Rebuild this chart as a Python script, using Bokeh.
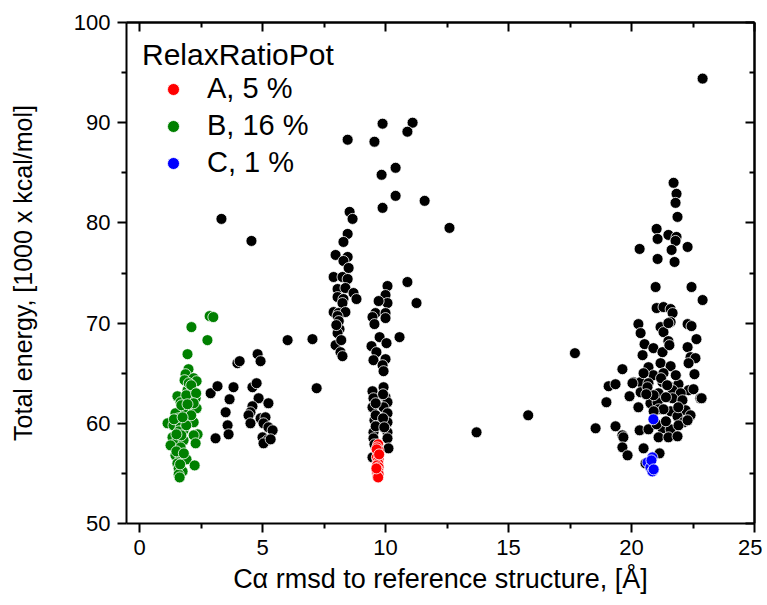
from bokeh.plotting import figure
from bokeh.models import Range1d, LinearAxis, FixedTicker, Legend, LegendItem
from bokeh.embed import file_html
from bokeh.resources import INLINE

FONT = "Liberation Sans"

# ---------------- data ----------------
# Cluster near 3-7 A plus stray points
black_x1 = [2.89, 3.17, 3.82, 3.98, 4.07, 3.66, 3.5, 3.58, 3.62, 3.09,
            4.8, 4.92, 4.59, 4.76, 4.84, 5.24, 4.59, 4.51, 4.43, 4.51, 4.92, 5.12,
            5.04, 5.24, 5.41, 5.0, 5.2, 5.04, 5.33,
            3.33, 4.55, 6.02, 7.03, 7.2, 13.7, 15.8, 17.7]
black_y1 = [63.0, 63.7, 63.6, 66.0, 66.2, 62.4, 61.1, 59.8, 58.9, 58.5,
            66.9, 66.2, 63.6, 64.0, 62.5, 62.0, 61.7, 61.1, 60.8, 60.0, 60.5, 60.6,
            60.0, 59.6, 59.3, 58.6, 58.3, 58.0, 58.4,
            80.4, 78.2, 68.3, 68.4, 63.5, 59.1, 60.8, 67.0]

# Cluster near 8-12 A (upper branch)
black_x2 = [8.46, 9.55, 9.88, 11.1, 10.89, 10.41, 9.84, 10.41, 11.59, 9.88, 12.6,
            8.54, 8.66, 8.46, 8.29, 7.97, 8.46, 8.29, 8.5, 7.89, 8.25, 8.46,
            8.05, 8.37, 8.7, 8.05, 8.29, 8.82, 8.25, 7.89, 8.09, 8.37, 8.05,
            8.13, 8.05, 7.97, 8.17, 8.25, 8.1, 8.2, 8.0, 10.89, 11.26]
black_y2 = [88.3, 88.1, 89.9, 90.0, 89.1, 85.5, 84.8, 82.7, 82.2, 81.5, 79.5,
            81.1, 80.4, 78.9, 78.1, 76.8, 76.6, 76.2, 75.5, 74.6, 74.6, 74.4,
            73.4, 73.5, 73.0, 72.6, 72.4, 72.4, 72.0, 71.1, 71.0, 71.1, 70.7,
            69.4, 69.0, 67.8, 67.1, 66.7, 70.2, 68.3, 69.8, 74.1, 72.0]

# Cluster near 9.5-10.5 A (lower branch)
black_x3 = [10.08, 10.0, 10.08, 9.72, 9.59, 9.47, 10.0, 10.0, 9.55,
            9.76, 10.04, 9.43, 10.57, 9.63, 9.51, 10.0, 9.88, 9.92,
            9.47, 9.92, 9.51, 10.0, 10.08, 9.47, 9.92, 10.08, 9.55, 10.08,
            9.51, 10.08, 10.08, 9.51, 10.12, 9.47,
            9.6, 9.9, 9.6, 9.9, 9.6, 9.95, 9.55]
black_y3 = [73.7, 72.8, 72.0, 72.2, 71.0, 70.6, 71.0, 70.5, 69.9,
            68.6, 68.0, 67.7, 68.6, 67.1, 66.3, 66.4, 65.8, 65.2,
            63.2, 63.6, 62.5, 62.6, 62.1, 61.6, 61.6, 61.0, 60.3, 60.1,
            59.1, 59.1, 58.5, 58.5, 57.5, 56.6,
            62.0, 62.9, 60.8, 60.5, 59.7, 59.6, 57.9]

# Cluster near 18.5-23 A
black_x4 = [22.89, 21.71, 21.83, 21.79, 21.87, 21.02, 21.06, 21.5, 21.83, 21.79,
            20.33, 21.63, 22.28, 21.06, 21.75, 20.98, 22.44, 22.89,
            21.02, 21.3, 21.59, 21.67, 21.59,
            20.28, 20.37, 21.18, 21.3, 21.5, 22.28, 22.44,
            20.53, 20.89, 21.26, 21.5, 21.54, 22.28, 22.64,
            20.45, 20.69, 21.18, 21.59, 22.4, 22.6, 22.32,
            19.63, 20.08, 20.37, 20.89, 21.3, 20.49, 22.56,
            19.07, 19.35, 20.04, 20.37, 20.69, 21.26, 21.59, 21.91, 22.32, 22.52,
            22.8, 20.65, 21.1, 21.67, 22.0,
            18.98, 19.92, 20.28, 20.77, 21.06, 21.67, 22.07, 22.2, 22.4, 22.85,
            21.1, 21.59, 21.87, 22.11, 21.3,
            18.54, 19.35, 19.63, 19.67, 20.33, 20.69, 21.26, 21.59, 21.91, 22.28,
            21.1, 21.5, 21.87, 21.02, 21.4,
            19.63, 19.84, 20.49, 21.14, 20.57,
            20.9, 21.4, 21.2, 21.8, 20.6, 21.9, 21.45, 20.9]
black_y4 = [94.4, 84.0, 82.9, 82.0, 80.6, 79.4, 78.4, 78.8, 78.6, 78.2,
            77.4, 77.3, 77.6, 76.4, 76.1, 73.6, 73.6, 72.3,
            71.5, 71.6, 71.4, 71.0, 70.1,
            69.9, 69.0, 69.6, 69.1, 70.0, 69.9, 69.7,
            67.9, 67.5, 67.1, 68.2, 67.8, 67.6, 68.4,
            66.8, 65.6, 66.0, 65.7, 66.6, 66.5, 66.0,
            65.4, 64.1, 64.1, 64.8, 65.0, 65.0, 64.9,
            63.7, 63.9, 64.0, 63.1, 64.0, 64.1, 63.6, 63.9, 63.3, 63.4,
            62.5, 63.6, 63.0, 63.3, 63.0,
            62.1, 62.7, 61.6, 62.0, 62.1, 62.5, 62.3, 61.3, 60.8, 62.5,
            61.4, 61.2, 60.7, 60.1, 61.4,
            59.5, 59.7, 58.8, 58.6, 59.3, 59.4, 59.5, 59.4, 59.8, 60.3,
            58.6, 58.6, 58.7, 59.9, 60.2,
            57.6, 56.8, 57.5, 57.0, 56.0,
            62.8, 62.6, 64.5, 64.8, 62.9, 61.6, 63.8, 61.2]

black_x = black_x1 + black_x2 + black_x3 + black_x4
black_y = black_y1 + black_y2 + black_y3 + black_y4

# RelaxRatioPot A (red)
a_x = [9.7, 9.66, 9.72, 9.68, 9.7, 9.65, 9.72, 9.68, 9.7, 9.66,
       9.72, 9.68, 9.7, 9.66, 9.72, 9.68, 9.7, 9.64, 9.74, 9.63]
a_y = [57.9, 57.6, 57.3, 57.1, 56.8, 56.6, 56.4, 56.2, 56.0, 55.8,
       55.6, 55.4, 55.2, 55.0, 54.9, 54.7, 54.6, 57.4, 56.9, 55.5]

# RelaxRatioPot B (green)
b_x = [2.85, 3.0, 2.11, 2.76, 1.95, 1.99, 1.87, 2.2, 1.83, 2.32,
       1.95, 2.15, 1.54, 2.28, 2.03, 1.67, 2.2, 1.87, 2.32,
       1.79, 1.46, 1.59, 1.99, 1.14, 2.2, 1.38, 1.67, 1.79, 2.36, 2.2,
       1.34, 1.54, 1.79, 1.26, 1.67, 2.28,
       1.46, 1.67, 1.91, 2.24, 1.54, 1.59, 1.75, 1.59, 1.63,
       2.0, 2.1, 1.9, 2.3, 1.7, 2.1, 1.6, 1.9, 1.5, 1.7, 2.2, 1.95,
       1.4, 1.75, 1.5, 1.8, 1.65]
b_y = [70.7, 70.6, 69.6, 68.3, 66.9, 65.4, 64.9, 64.5, 64.3, 64.2,
       63.3, 63.3, 62.7, 62.5, 62.3, 62.1, 61.6, 61.5, 61.5,
       61.1, 61.0, 60.5, 60.3, 60.0, 60.1, 59.8, 59.6, 59.3, 58.9, 58.8,
       58.6, 58.3, 58.3, 57.8, 57.6, 58.0,
       56.8, 56.6, 56.4, 55.8, 56.0, 55.5, 55.2, 54.9, 54.6,
       64.0, 63.8, 62.8, 63.0, 61.8, 60.8, 59.2, 59.8, 57.2, 58.8, 62.0, 61.9,
       60.4, 60.6, 58.9, 57.0, 55.9]

# RelaxRatioPot C (blue)
c_x = [20.89, 20.85, 20.65, 20.77, 20.85, 20.81, 20.9]
c_y = [60.4, 56.6, 56.1, 55.6, 55.2, 56.3, 55.4]

x_ticks = [0, 5, 10, 15, 20, 25]
x_minor = [2.5, 7.5, 12.5, 17.5, 22.5]
y_ticks = [50, 60, 70, 80, 90, 100]
y_minor = [55, 65, 75, 85, 95]

legend_title = "RelaxRatioPot"
legend_labels = ["A, 5 %", "B, 16 %", "C, 1 %"]

# ---------------- figure ----------------
p = figure(width=762, height=600, output_backend="svg", toolbar_location=None,
           x_range=Range1d(-0.53, 25), y_range=Range1d(50, 100),
           min_border_left=126, min_border_right=8, min_border_top=22,
           min_border_bottom=77, x_axis_location=None, y_axis_location=None)
p.xgrid.visible = False
p.ygrid.visible = False
p.outline_line_color = None
p.background_fill_color = "white"
p.border_fill_color = "white"


def base_axis(ax):
    ax.axis_line_width = 2
    ax.axis_line_color = "black"
    ax.major_tick_line_width = 2
    ax.minor_tick_line_width = 2
    ax.major_tick_line_color = "black"
    ax.minor_tick_line_color = "black"


def labelled_axis(ax, ticks, minor):
    base_axis(ax)
    ax.ticker = FixedTicker(ticks=ticks, minor_ticks=minor)
    ax.major_tick_in = 0
    ax.major_tick_out = 9
    ax.minor_tick_in = 0
    ax.minor_tick_out = 5
    ax.major_label_text_font = FONT
    ax.major_label_text_font_size = "22px"
    ax.major_label_text_color = "black"
    ax.major_label_standoff = 7
    ax.axis_label_text_font = FONT
    ax.axis_label_text_font_style = "normal"
    ax.axis_label_text_color = "black"


def inner_tick_axis(positions, length):
    # frame side with inward ticks only (no labels): ticks given as minor ticks
    ax = LinearAxis(ticker=FixedTicker(ticks=[], minor_ticks=positions))
    base_axis(ax)
    ax.major_tick_in = 0
    ax.major_tick_out = 0
    ax.minor_tick_in = length
    ax.minor_tick_out = 0
    ax.major_label_standoff = 0
    return ax


xb = LinearAxis(axis_label="C\u03b1 rmsd to reference structure, [\u00c5]")
labelled_axis(xb, x_ticks, x_minor)
xb.axis_label_text_font_size = "27px"
xb.axis_label_standoff = 6
p.add_layout(xb, "below")

yl = LinearAxis(axis_label="Total energy, [1000 x kcal/mol]")
labelled_axis(yl, y_ticks, y_minor)
yl.axis_label_text_font_size = "25px"
yl.axis_label_standoff = 34
p.add_layout(yl, "left")

p.add_layout(inner_tick_axis(x_ticks, 9), "above")
p.add_layout(inner_tick_axis(x_minor, 5), "above")
p.add_layout(inner_tick_axis(y_ticks, 9), "right")
p.add_layout(inner_tick_axis(y_minor, 5), "right")

# ---------------- points ----------------
kw = dict(size=11, line_color="white", line_width=0.8)
p.scatter(black_x, black_y, fill_color="black", **kw)
rB = p.scatter(b_x, b_y, fill_color="#008000", **kw)
rA = p.scatter(a_x, a_y, fill_color="#ff0000", **kw)
rC = p.scatter(c_x, c_y, fill_color="#0000ff", **kw)

legend = Legend(items=[LegendItem(label=legend_labels[0], renderers=[rA]),
                       LegendItem(label=legend_labels[1], renderers=[rB]),
                       LegendItem(label=legend_labels[2], renderers=[rC])],
                title=legend_title, location="top_left")
legend.margin = 16
legend.padding = 23
legend.border_line_color = None
legend.background_fill_alpha = 0
legend.title_text_font = FONT
legend.title_text_font_size = "30px"
legend.title_text_font_style = "normal"
legend.title_text_color = "black"
legend.title_standoff = 0
legend.label_text_font = FONT
legend.label_text_font_size = "29px"
legend.label_text_color = "black"
legend.glyph_width = 62
legend.glyph_height = 30
legend.label_standoff = 3
legend.spacing = 4
p.add_layout(legend, "center")

open("out.html", "w").write(file_html(p, INLINE))
